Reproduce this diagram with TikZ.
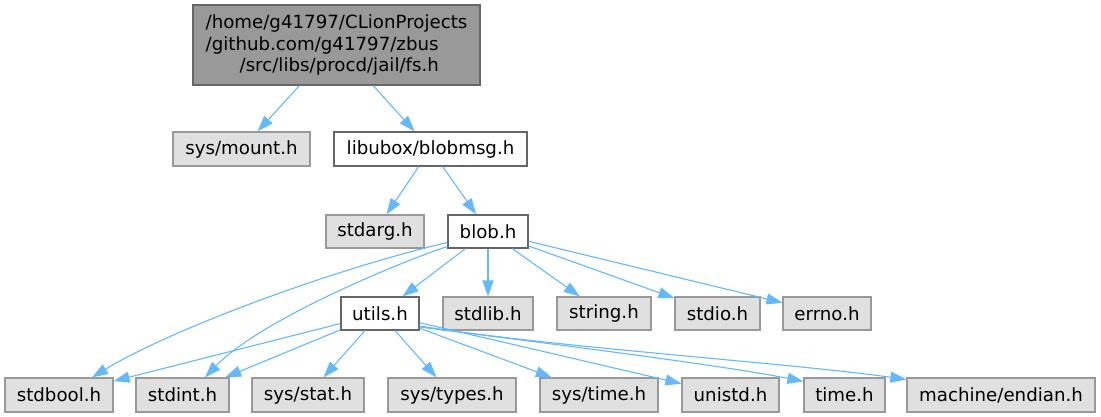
\documentclass[tikz,border=0pt]{standalone}
\usepackage{fontspec}
\setmainfont{DejaVu Sans}
\usetikzlibrary{arrows.meta}
\definecolor{edgeblue}{HTML}{63B8FF}
\definecolor{sysfill}{HTML}{E0E0E0}
\definecolor{sysdraw}{HTML}{999999}
\definecolor{dark}{HTML}{666666}
\begin{document}
\begin{tikzpicture}[x=1pt,y=-1pt,
  every node/.style={font=\fontsize{18.2}{21.7}\selectfont, inner sep=0pt, anchor=center},
  sysbox/.style={draw=sysdraw, fill=sysfill, line width=1.2pt, minimum height=34pt},
  incbox/.style={draw=dark, fill=white, line width=1.2pt, minimum height=34pt},
  edge/.style={draw=edgeblue, line width=1.1pt, -{Triangle[length=16pt,width=11pt]}}]
\useasboundingbox (0,0) rectangle (1101,417);
% nodes
\node[draw=dark, fill=sysdraw, line width=1.2pt, minimum width=287pt, minimum height=80pt, align=left] (fs) at (336.5,45)
  {/home/g41797/CLionProjects\\/github.com/g41797/zbus\\\hspace*{34pt}/src/libs/procd/jail/fs.h};
\node[sysbox, minimum width=137pt] (mount) at (241.5,149) {sys/mount.h};
\node[incbox, minimum width=193pt] (blobmsg) at (430.5,149) {libubox/blobmsg.h};
\node[sysbox, minimum width=98pt, minimum height=33pt] (stdarg) at (375,231.5) {stdarg.h};
\node[incbox, minimum width=80pt, minimum height=33pt] (blob) at (488,231.5) {blob.h};
\node[incbox, minimum width=78pt, minimum height=33pt] (utils) at (380,313.5) {utils.h};
\node[sysbox, minimum width=90pt, minimum height=33pt] (stdlib) at (488,313.5) {stdlib.h};
\node[sysbox, minimum width=94pt, minimum height=33pt] (string) at (604,313.5) {string.h};
\node[sysbox, minimum width=85pt, minimum height=33pt] (stdio) at (717.5,313.5) {stdio.h};
\node[sysbox, minimum width=88pt, minimum height=33pt] (errno) at (827,313.5) {errno.h};
\node[sysbox, minimum width=108pt] (stdbool) at (59,395) {stdbool.h};
\node[sysbox, minimum width=93pt] (stdint) at (182.5,395) {stdint.h};
\node[sysbox, minimum width=112pt] (sysstat) at (308,395) {sys/stat.h};
\node[sysbox, minimum width=128pt] (systypes) at (452,395) {sys/types.h};
\node[sysbox, minimum width=118pt] (systime) at (599,395) {sys/time.h};
\node[sysbox, minimum width=97pt] (unistd) at (730.5,395) {unistd.h};
\node[sysbox, minimum width=81pt] (timeh) at (844.5,395) {time.h};
\node[sysbox, minimum width=188pt] (endian) at (1001,395) {machine/endian.h};
% edges
\draw[edge] (fs) -- (mount);
\draw[edge] (fs) -- (blobmsg);
\draw[edge] (blobmsg) -- (stdarg);
\draw[edge] (blobmsg) -- (blob);
\draw[edge] (blob) -- (utils);
\draw[edge] (blob) -- (stdlib);
\draw[edge] (blob) -- (string);
\draw[edge] (blob) -- (stdio);
\draw[edge] (blob) -- (errno);
\draw[edge] ([yshift=-11pt]blob.west) .. controls (330,270) and (170,330) .. ([xshift=33pt]stdbool.north);
\draw[edge] ([yshift=-15pt]blob.west) .. controls (400,262) and (260,320) .. ([xshift=22.5pt]stdint.north);
\draw[edge] (utils) -- (stdbool);
\draw[edge] (utils) -- (stdint);
\draw[edge] (utils) -- (sysstat);
\draw[edge] (utils) -- (systypes);
\draw[edge] (utils) -- (systime);
\draw[edge] (utils) -- (unistd);
\draw[edge] ([yshift=-13.5pt]utils.east) .. controls (560,345) and (720,365) .. ([yshift=-4pt]timeh.north west);
\draw[edge] ([yshift=-12.5pt]utils.east) .. controls (560,348) and (780,362) .. ([yshift=-2pt]endian.north west);
\end{tikzpicture}
\end{document}
